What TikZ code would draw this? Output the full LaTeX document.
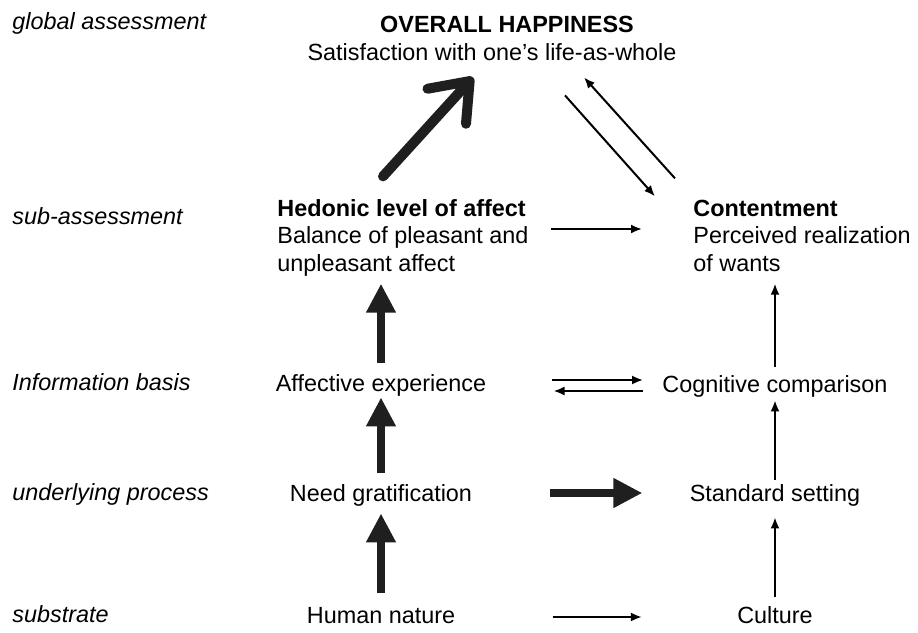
\documentclass[tikz,border=0pt]{standalone}
\usepackage{fontspec}
\setmainfont{Liberation Sans}
\usetikzlibrary{arrows.meta}

\newcommand{\hapfont}{\fontsize{11.7pt}{13.75pt}\selectfont}

\tikzset{
  lbl/.style={inner sep=0pt, anchor=base west, font=\hapfont\itshape},
  txt/.style={inner sep=0pt, anchor=base, text height=8.5pt, text depth=2.5pt, font=\hapfont},
  blk/.style={inner sep=0pt, anchor=base west, font=\hapfont},
  thinarr/.style={line width=1pt, -{Latex[length=5.5pt,width=4.5pt]}},
  fatarr/.style={line width=4.2pt, black!88, -{Triangle[length=14.5pt,width=14pt]}},
  bigarr/.style={line width=5pt, black!88, line cap=round,
    -{Straight Barb[length=17pt,width=26pt,line cap=round,line join=round]}}
}

\begin{document}
\begin{tikzpicture}[x=0.5pt,y=-0.5pt]
  \fill[white] (0,0) rectangle (918,633);
  \useasboundingbox (0,0) rectangle (918,633);

  % levels
  \node[lbl] (lglobal) at (12,29)  {global assessment};
  \node[lbl] (lsub)    at (12,224) {sub-assessment};
  \node[lbl] (linfo)   at (12,390) {Information basis};
  \node[lbl] (lproc)   at (12,500) {underlying process};
  \node[lbl] (lsubst)  at (12,622) {substrate};

  % top
  \node[txt, font=\hapfont\bfseries] (happy) at (507,32) {OVERALL HAPPINESS};
  \node[txt] (life) at (492,60) {Satisfaction with one's life-as-whole};

  % sub-assessments
  \node[blk] (hed) at (277,216) {\begin{tabular}[t]{@{}l@{}}\textbf{Hedonic level of affect}\\Balance of pleasant and\\unpleasant affect\end{tabular}};
  \node[blk] (con) at (693,216) {\begin{tabular}[t]{@{}l@{}}\textbf{Contentment}\\Perceived realization\\of wants\end{tabular}};

  % left column
  \node[txt] (aff)  at (381,391) {Affective experience};
  \node[txt] (need) at (381,501) {Need gratification};
  \node[txt] (hum)  at (381,623) {Human nature};

  % right column
  \node[txt] (cog) at (775,392) {Cognitive comparison};
  \node[txt] (std) at (775,501) {Standard setting};
  \node[txt] (cul) at (775,623) {Culture};

  % thick arrows up the left
  \draw[fatarr, shorten <=5.5pt, shorten >=2pt] (aff.north) -- (aff.north |- hed.south);
  \draw[fatarr, shorten <=5.5pt, shorten >=0.5pt] (need.north) -- (aff.south);
  \draw[fatarr, shorten <=6.5pt, shorten >=3.5pt] (hum.north) -- (need.south);

  % thin arrows up the right
  \draw[thinarr, shorten <=4.5pt, shorten >=5.5pt] (cul.north) -- (std.south);
  \draw[thinarr, shorten <=2pt, shorten >=1.5pt] (std.north) -- (cog.south);
  \draw[thinarr, shorten <=4pt, shorten >=2pt] (cog.north) -- (cog.north |- con.south);

  % across
  \draw[thinarr, shorten <=11pt, shorten >=25.5pt] ([yshift=4.5pt]hed.east) -- ([yshift=4.5pt]hed.east -| con.west);
  \draw[thinarr, shorten <=32.5pt, shorten >=9.5pt] ([yshift=2.5pt]aff.east) -- ([yshift=2.5pt]aff.east -| cog.west);
  \draw[thinarr, shorten <=9.5pt, shorten >=33.5pt] ([yshift=-3pt]aff.east -| cog.west) -- ([yshift=-3pt]aff.east);
  \draw[fatarr, shorten <=39pt, shorten >=23.5pt] ([yshift=1pt]need.east) -- ([yshift=1pt]need.east -| std.west);
  \draw[thinarr, shorten <=48.5pt, shorten >=47.5pt] (hum.east) -- (cul.west);

  % to and from the top
  \draw[bigarr] ([xshift=53pt,yshift=10pt]hed.north west) -- ([xshift=-9.5pt,yshift=-6pt]life.south);
  \draw[thinarr] ([xshift=36.5pt,yshift=-15pt]life.south) -- ([xshift=-19pt]con.north west);
  \draw[thinarr] ([xshift=-9pt,yshift=9pt]con.north west) -- ([xshift=46pt,yshift=-6pt]life.south);
\end{tikzpicture}
\end{document}
